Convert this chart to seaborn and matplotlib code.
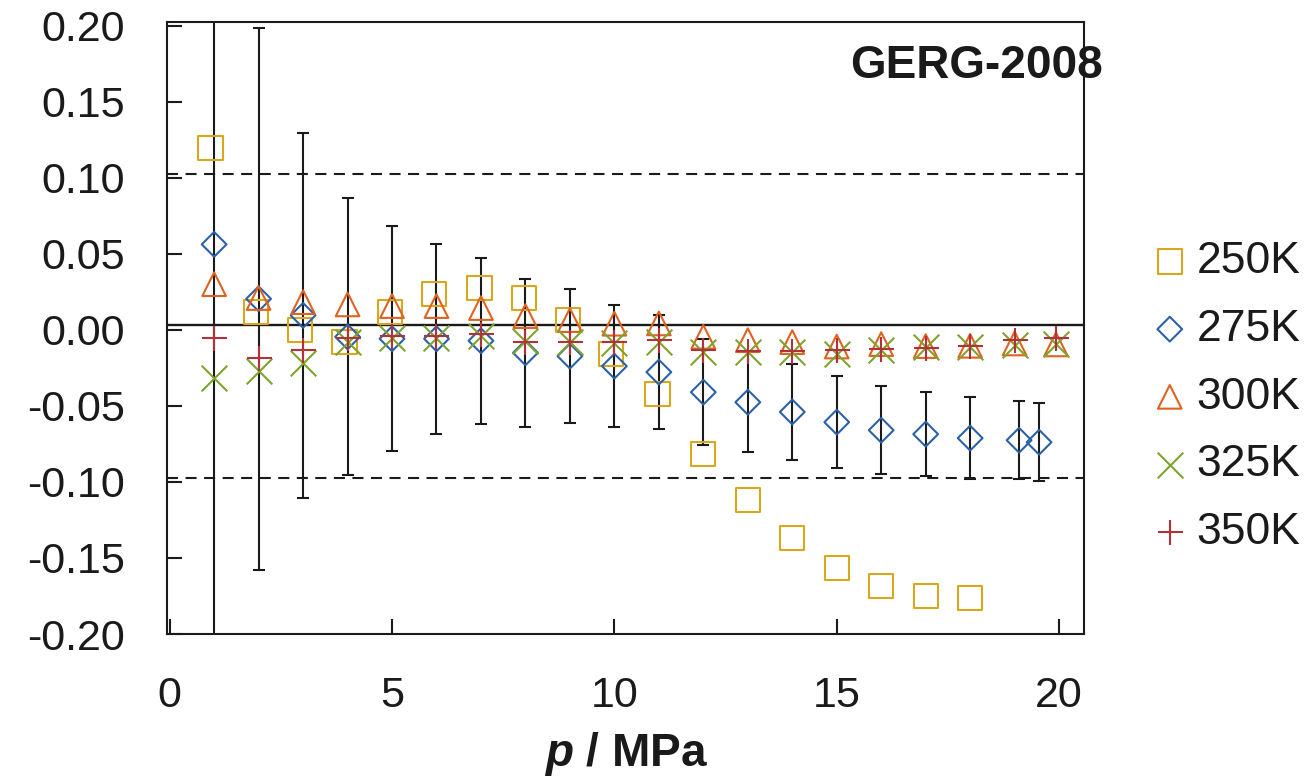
import matplotlib
matplotlib.use("Agg")
import matplotlib.pyplot as plt
import seaborn as sns
import numpy as np
from matplotlib.ticker import FormatStrFormatter, FixedLocator

# Deviations of measured densities from GERG-2008, by isotherm
p_250 = [0.92, 1.94, 2.93, 3.93, 4.95, 5.95, 6.97, 7.97, 8.96, 9.93, 10.97,
         12, 13, 14, 15, 16, 17, 18]
d_250 = [0.1195, 0.0116, 0.0, -0.0081, 0.0116, 0.0235, 0.0274, 0.0209, 0.0064,
         -0.016, -0.0423, -0.0818, -0.112, -0.137, -0.1568, -0.1686, -0.175, -0.1765]

p_275 = [1, 2, 3, 4, 5, 6, 7, 8, 9, 10, 11, 12, 13, 14, 15, 16, 17, 18, 19.1, 19.55]
d_275 = [0.0562, 0.0204, 0.0095, -0.0046, -0.0059, -0.0059, -0.0072, -0.0151,
         -0.0173, -0.0239, -0.0278, -0.041, -0.0476, -0.054, -0.0607, -0.066,
         -0.0686, -0.0712, -0.0726, -0.0739]
err_275 = [0.30, 0.178, 0.120, 0.091, 0.074, 0.0625, 0.0546, 0.0488, 0.044, 0.040,
           0.0376, 0.0349, 0.033, 0.0317, 0.0303, 0.0289, 0.0276, 0.0269, 0.0257, 0.0257]

p_hi = [1, 2, 3, 4, 5, 6, 7, 8, 9, 10, 11, 12, 13, 14, 15, 16, 17, 18, 19, 19.93]
d_300 = [0.030, 0.0209, 0.0182, 0.0167, 0.0156, 0.0156, 0.0143, 0.009, 0.0064,
         0.004, 0.0042, -0.0046, -0.0068, -0.0081, -0.011, -0.0094, -0.0107,
         -0.0105, -0.009, -0.0096]
d_325 = [-0.0318, -0.027, -0.0221, -0.0081, -0.0057, -0.0057, -0.004, -0.0072,
         -0.008, -0.0085, -0.0079, -0.0149, -0.0147, -0.0147, -0.016, -0.013,
         -0.0114, -0.0114, -0.0099, -0.0094]
d_350 = [-0.0055, -0.0186, -0.0134, -0.0055, -0.0041, -0.0041, -0.0028, -0.0081,
         -0.0081, -0.0081, -0.0068, -0.0134, -0.0138, -0.0138, -0.0134, -0.0129,
         -0.012, -0.0107, -0.0068, -0.0055]

labels = ["250K", "275K", "300K", "325K", "350K"]
ref_lines = [0.1026, 0.0029, -0.0974]
x_ticks = [0, 5, 10, 15, 20]
y_ticks = [-0.20, -0.15, -0.10, -0.05, 0.00, 0.05, 0.10, 0.15, 0.20]

sns.set_theme(style="white")
plt.rcParams["font.family"] = ["Liberation Sans", "DejaVu Sans"]
plt.rcParams["axes.unicode_minus"] = False
plt.rcParams["text.color"] = "black"
plt.rcParams["axes.labelcolor"] = "black"
plt.rcParams["xtick.color"] = "black"
plt.rcParams["ytick.color"] = "black"
plt.rcParams["mathtext.fontset"] = "custom"
plt.rcParams["mathtext.bfit"] = "Liberation Sans:italic:bold"
plt.rcParams["mathtext.bf"] = "Liberation Sans:bold"
plt.rcParams["mathtext.rm"] = "Liberation Sans"

fig = plt.figure(figsize=(13.14, 7.79), dpi=100)
ax = fig.add_axes([167 / 1314, 1 - 634 / 779, (1084 - 167) / 1314, (634 - 22) / 779])

# reference lines
ax.axhline(ref_lines[0], color="k", lw=1.5, ls=(0, (5.3, 3.6)), zorder=1.5)
ax.axhline(ref_lines[1], color="k", lw=1.7, zorder=1.5)
ax.axhline(ref_lines[2], color="k", lw=1.5, ls=(0, (5.3, 3.6)), zorder=1.5)

# uncertainty bars on the 275 K isotherm
ax.errorbar(p_275, d_275, yerr=err_275, fmt="none", ecolor="k",
            elinewidth=1.5, capsize=4.3, capthick=1.5, zorder=2)

mew = 1.5
sns.scatterplot(x=p_250, y=d_250, ax=ax, marker="s", s=17.5 ** 2,
                facecolor="none", edgecolor="#D8A71C", linewidth=mew,
                label=labels[0], zorder=3)
sns.scatterplot(x=p_275, y=d_275, ax=ax, marker="D", s=12.6 ** 2,
                facecolor="none", edgecolor="#2A62A8", linewidth=mew,
                label=labels[1], zorder=3)
sns.scatterplot(x=p_hi, y=d_300, ax=ax, marker="^", s=17.0 ** 2,
                facecolor="none", edgecolor="#E0621E", linewidth=mew,
                label=labels[2], zorder=3)
sns.scatterplot(x=p_hi, y=d_325, ax=ax, marker="x", s=18.5 ** 2,
                color="#7FA42E", edgecolor=None, linewidth=mew,
                label=labels[3], zorder=3)
sns.scatterplot(x=p_hi, y=d_350, ax=ax, marker="+", s=18.0 ** 2,
                color="#B2323A", edgecolor=None, linewidth=mew,
                label=labels[4], zorder=3)

ax.set_xlim(-0.06, 20.56)
ax.set_ylim(-0.2, 0.2024)
ax.xaxis.set_major_locator(FixedLocator(x_ticks))
ax.yaxis.set_major_locator(FixedLocator(y_ticks))
ax.yaxis.set_major_formatter(FormatStrFormatter("%.2f"))
ax.tick_params(axis="both", direction="in", length=10.5, width=1.5,
               labelsize=31, pad=30, colors="k", labelcolor="k",
               left=True, bottom=True, top=False, right=False)
for sp in ax.spines.values():
    sp.set_color("k")
    sp.set_linewidth(1.5)

ax.set_xlabel(r"$\mathbfit{p}$ / MPa", fontsize=33, fontweight="bold", color="k")
ax.xaxis.label.set_va("baseline")
ax.xaxis.set_label_coords(0.5, (634 - 766) / 612)
ax.set_ylabel("")

ax.text(976 / 1314, 1 - 66 / 779, "GERG-2008", transform=fig.transFigure,
        ha="center", va="center", fontsize=33, fontweight="bold", color="k")

leg = ax.legend(loc="center left", bbox_to_anchor=(1152 / 1314, 1 - 397 / 779),
                bbox_transform=fig.transFigure, frameon=False, fontsize=32,
                handlelength=0.8, handletextpad=0.2, borderpad=0, borderaxespad=0,
                labelspacing=0.6, scatterpoints=1)
for t in leg.get_texts():
    t.set_color("k")

fig.savefig("out.png", dpi=100)
